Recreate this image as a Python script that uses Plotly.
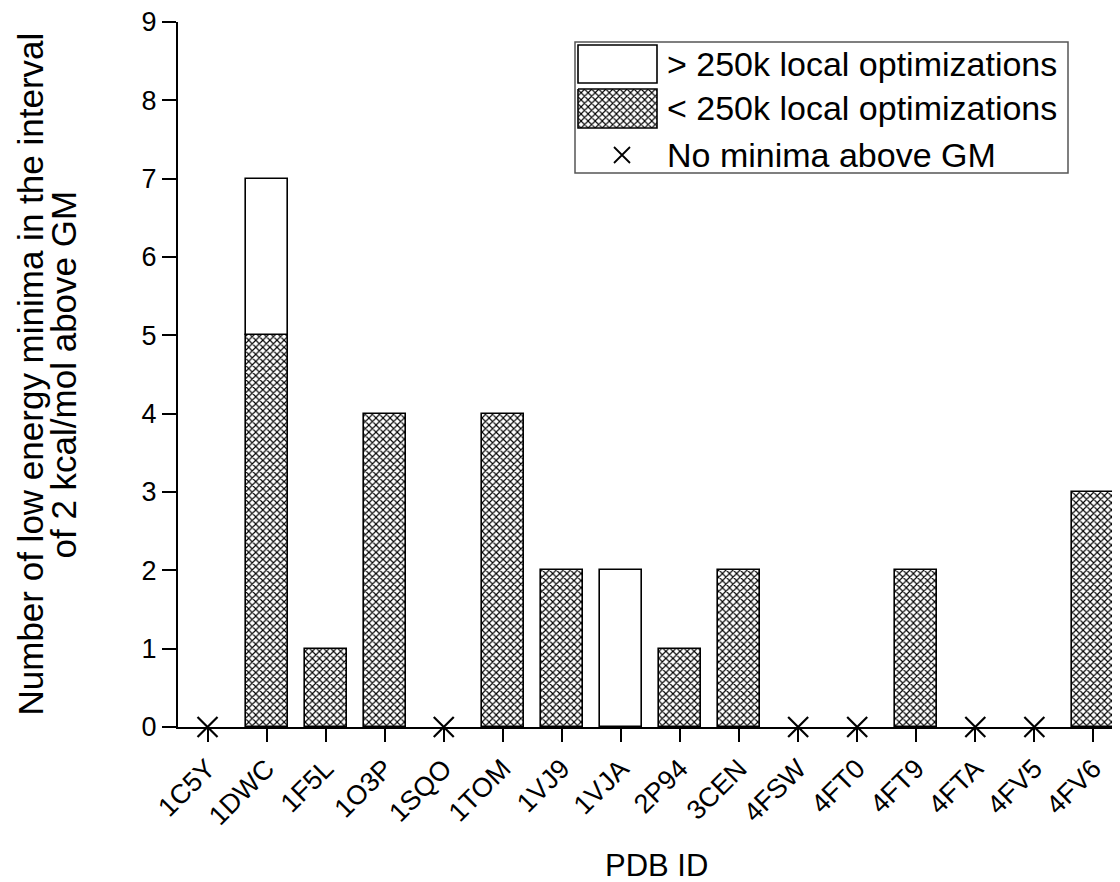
import plotly.graph_objects as go

categories = ["1C5Y", "1DWC", "1F5L", "1O3P", "1SQO", "1TOM", "1VJ9", "1VJA",
              "2P94", "3CEN", "4FSW", "4FT0", "4FT9", "4FTA", "4FV5", "4FV6"]
below_250k = [0, 5, 1, 4, 0, 4, 2, 0, 1, 2, 0, 0, 2, 0, 0, 3]
above_250k = [0, 2, 0, 0, 0, 0, 0, 2, 0, 0, 0, 0, 0, 0, 0, 0]
no_minima = ["1C5Y", "1SQO", "4FSW", "4FT0", "4FTA", "4FV5"]
y_ticks = [0, 1, 2, 3, 4, 5, 6, 7, 8, 9]

FONT = "Arial, Liberation Sans, sans-serif"
OFF = 8  # default page body margin
PW, PH = 1120, 882           # page (window) size
PL, PR, PT, PB = 178, 1120, 22, 727  # plot area in page pixels
W, H = PW - OFF, PH - OFF
L, R, T, B = PL - OFF, PW - PR, PT - OFF, PH - PB

hatch = dict(shape="x", size=5, solidity=0.4, fgcolor="black", bgcolor="white", fillmode="replace")

fig = go.Figure()
idx = {c: i for i, c in enumerate(categories)}
xs = list(range(len(categories)))
nz = lambda v: [None if a == 0 else a for a in v]

fig.add_trace(go.Bar(
    x=xs, y=nz(below_250k), width=0.71,
    marker=dict(color="white", pattern=hatch, line=dict(color="black", width=1.6)),
    showlegend=False,
))
fig.add_trace(go.Bar(
    x=xs, y=nz(above_250k), base=below_250k, width=0.71,
    marker=dict(color="white", line=dict(color="black", width=1.6)),
    showlegend=False,
))
fig.add_trace(go.Scatter(
    x=[idx[c] for c in no_minima], y=[0] * len(no_minima), mode="markers",
    marker=dict(symbol="x-thin", size=20, line=dict(color="black", width=2.2)),
    cliponaxis=False, showlegend=False,
))

# ---- custom legend on a page-pixel overlay axis ----
fig.add_shape(type="rect", xref="x2", yref="y2", x0=575, x1=1068, y0=42, y1=173,
              line=dict(color="#555555", width=1.5), fillcolor="white", layer="below")
fig.add_shape(type="rect", xref="x2", yref="y2", x0=578, x1=657, y0=45, y1=83,
              line=dict(color="black", width=1.6), fillcolor="white", layer="above")
fig.add_trace(go.Scatter(
    x=[578, 657, 657, 578, 578], y=[89, 89, 128, 128, 89], xaxis="x2", yaxis="y2",
    mode="lines", fill="toself", fillcolor="white", fillpattern=hatch,
    line=dict(color="black", width=1.6), showlegend=False, hoverinfo="skip",
))
fig.add_trace(go.Scatter(
    x=[622], y=[155], xaxis="x2", yaxis="y2", mode="markers",
    marker=dict(symbol="x-thin", size=16, line=dict(color="black", width=1.8)),
    showlegend=False, hoverinfo="skip",
))
for yy, txt in [(64, "> 250k local optimizations"), (108, "< 250k local optimizations"),
                (155, "No minima above GM")]:
    fig.add_annotation(x=665, y=yy, xref="x2", yref="y2", text=txt, showarrow=False,
                       xanchor="left", yanchor="middle",
                       font=dict(family=FONT, size=34, color="black"))

# axis titles
fig.add_annotation(x=0, y=0.5, xref="paper", yref="paper", xshift=30 - PL,
                   text="Number of low energy minima in the interval", textangle=-90,
                   showarrow=False, xanchor="center", yanchor="middle",
                   font=dict(family=FONT, size=35, color="black"))
fig.add_annotation(x=0, y=0.5, xref="paper", yref="paper", xshift=63 - PL,
                   text="of 2 kcal/mol above GM", textangle=-90,
                   showarrow=False, xanchor="center", yanchor="middle",
                   font=dict(family=FONT, size=35, color="black"))
fig.add_annotation(x=0.5, y=0, xref="paper", yref="paper", xshift=7, yshift=-(865 - PB),
                   text="PDB ID", showarrow=False, xanchor="center", yanchor="middle",
                   height=30, valign="middle",
                   font=dict(family=FONT, size=31, color="black"))

fig.update_layout(
    width=W, height=H, template="plotly_white",
    paper_bgcolor="white", plot_bgcolor="white",
    margin=dict(l=L, r=R, t=T, b=B),
    barmode="overlay", bargap=0,
    font=dict(family=FONT, color="black"),
    xaxis=dict(
        range=[-0.5, 15.45], tickmode="array", tickvals=xs, ticktext=categories,
        tickangle=-45, ticks="outside", ticklen=13, tickwidth=2, tickcolor="black",
        showline=True, linecolor="black", linewidth=2, showgrid=False, zeroline=False,
        tickfont=dict(family=FONT, size=27, color="black"), ticklabeloverflow="allow",
    ),
    yaxis=dict(
        range=[0, 9], tickmode="array", tickvals=y_ticks,
        ticks="outside", ticklen=14, tickwidth=2, tickcolor="black",
        showline=True, linecolor="black", linewidth=2, showgrid=False, zeroline=False,
        tickfont=dict(family=FONT, size=27, color="black"), ticklabeloverflow="allow",
    ),
    xaxis2=dict(overlaying="x", range=[PL, PR], visible=False, fixedrange=True),
    yaxis2=dict(overlaying="y", range=[PB, PT], visible=False, fixedrange=True),
)

fig.write_html("out.html")
